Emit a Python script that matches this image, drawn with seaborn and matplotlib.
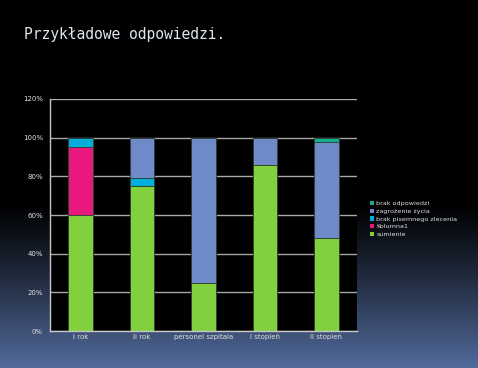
import numpy as np
import pandas as pd
import matplotlib
matplotlib.use("Agg")
import matplotlib.pyplot as plt
from matplotlib.patches import Patch
import seaborn as sns

categories = ["I rok", "II rok", "personel szpitala", "I stopień", "II stopień"]
sumienie = [60, 75, 25, 86, 48]
kolumna1 = [35, 0, 0, 0, 0]
brak_pisemnego = [5, 4, 0, 0, 0]
zagrozenie = [0, 21, 75, 14, 50]
brak_odpowiedzi = [0, 0, 0, 0, 2]

series = [
    ("sumienie", sumienie, "#82D03E"),
    ("Kolumna1", kolumna1, "#E8187D"),
    ("brak pisemnego zlecenia", brak_pisemnego, "#00AEDB"),
    ("zagrożenie życia", zagrozenie, "#6F8AC8"),
    ("brak odpowiedzi", brak_odpowiedzi, "#13AE8E"),
]

sns.set_theme(style="dark")
fig = plt.figure(figsize=(4.78, 3.68), dpi=100)

# background gradient: black at top, slate blue at the bottom
bg = fig.add_axes([0, 0, 1, 1], zorder=-10)
h = 368
t = np.linspace(0, 1, h)
ramp = np.clip((t - 0.55) / 0.45, 0, 1) ** 1.15
top = np.array([0, 0, 0])
bot = np.array([0x52, 0x6B, 0x9C]) / 255
img = top[None, :] * (1 - ramp[:, None]) + bot[None, :] * ramp[:, None]
img = np.repeat(img[:, None, :], 10, axis=1)
bg.imshow(img, aspect="auto", extent=[0, 1, 0, 1], origin="upper")
bg.set_axis_off()

fig.text(0.05, 0.905, "Przykładowe odpowiedzi.", color="#DCE6EE",
         fontsize=10.5, family="DejaVu Sans Mono", va="center")

ax = fig.add_axes([0.1046, 0.1005, 0.6425, 0.6305])
ax.set_facecolor("black")

# stacked bars: draw cumulative totals from the top down
cum = np.zeros(len(categories))
cums = []
for name, vals, color in series:
    cum = cum + np.array(vals)
    cums.append((name, cum.copy(), color))
for name, c, color in reversed(cums):
    df = pd.DataFrame({"cat": categories, "val": c})
    sns.barplot(data=df, x="cat", y="val", color=color, width=0.4,
                saturation=1, edgecolor="#2a3a2a", linewidth=0.6, ax=ax)

ax.set_ylim(0, 120)
ax.set_xlim(-0.5, 4.5)
ax.set_yticks(np.arange(0, 121, 20))
ax.set_yticklabels([f"{v}%" for v in range(0, 121, 20)])
ax.yaxis.grid(True, color="#A8A8A8", linewidth=1.0)
ax.xaxis.grid(False)
ax.set_axisbelow(True)
ax.set_xlabel("")
ax.set_ylabel("")
for s in ["top", "right"]:
    ax.spines[s].set_visible(False)
for s in ["left", "bottom"]:
    ax.spines[s].set_visible(True)
    ax.spines[s].set_color("#C8C8C8")
    ax.spines[s].set_linewidth(1.0)
ax.tick_params(axis="both", colors="#E0E0E0", labelsize=5, pad=2)
ax.tick_params(axis="y", length=3, color="#C8C8C8", width=0.8)
ax.tick_params(axis="x", which="major", length=0)
ax.set_xticks(np.arange(-0.5, 5, 1), minor=True)
ax.tick_params(axis="x", which="minor", length=3, color="#C8C8C8", width=0.8, direction="out")
for lbl in ax.get_xticklabels() + ax.get_yticklabels():
    lbl.set_color("#E0E0E0")

handles = [Patch(facecolor=color, edgecolor="none", label=name)
           for name, vals, color in reversed(series)]
leg = fig.legend(handles=handles, loc="center left", bbox_to_anchor=(0.762, 0.405),
                 frameon=False, fontsize=4.6, handlelength=0.7, handleheight=0.7,
                 handletextpad=0.3, labelspacing=0.35)
for txt in leg.get_texts():
    txt.set_color("#E0E0E0")

fig.savefig("out.png", dpi=100, facecolor="black")
